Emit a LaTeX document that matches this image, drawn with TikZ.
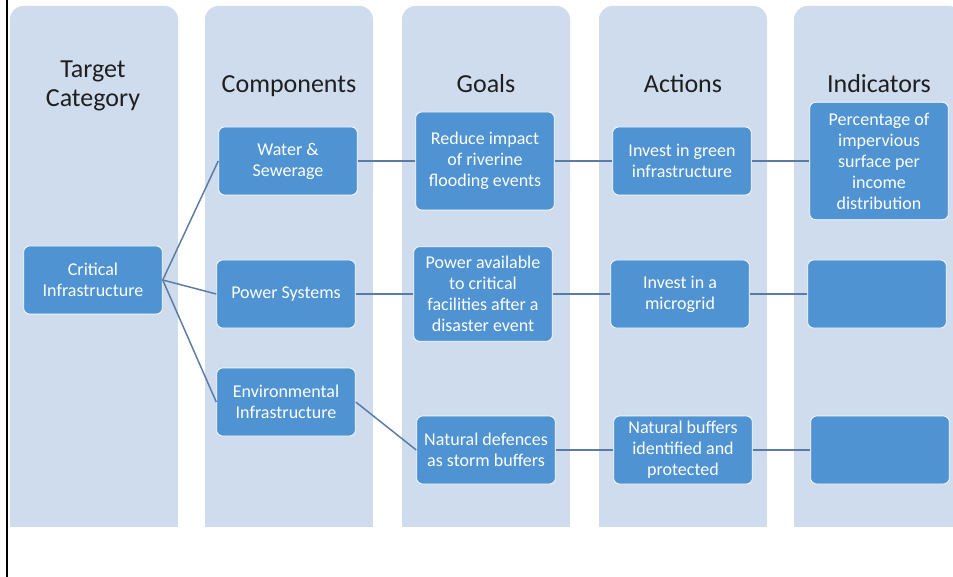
\documentclass[tikz,border=0pt]{standalone}
\usepackage{fontspec}
\setmainfont{Carlito}
\usetikzlibrary{positioning}
\definecolor{lanebg}{HTML}{CEDCEE}
\definecolor{boxbg}{HTML}{4F93D2}
\definecolor{linkcol}{HTML}{5B7BA5}

\begin{document}
\begin{tikzpicture}[x=0.75pt,y=-0.75pt,node distance=147.75pt,on grid,
	lane/.style={fill=lanebg},
	head/.style={font=\fontsize{19.5}{21.75}\selectfont,text=black!88,align=center,anchor=base},
	item/.style={rectangle,rounded corners=4.5pt,fill=boxbg,draw=white,line width=0.6pt,text=white,
		font=\fontsize{13.5}{15.75}\selectfont,align=center,minimum width=104pt,minimum height=51pt,inner sep=2pt},
	link/.style={draw=linkcol,line width=1.1pt}]
	\useasboundingbox (0,0) rectangle (953,577);
	\draw[line width=1.5pt] (7,0) -- (7,577);
	% lanes
	\foreach \x in {10,205,402,599,794} {
		\fill[lane,rounded corners=10pt] (\x,6) rectangle ++(168,200);
		\fill[lane] (\x,60) rectangle ++(168,467);
	}
	\node[head] (hcat) at (93,107) {Target\\Category};
	\node[head] (hcomp) at (289,93) {Components};
	\node[head] (hgoal) at (486,93) {Goals};
	\node[head] (hact) at (683,93) {Actions};
	\node[head] (hind) at (879,93) {Indicators};
	% boxes
	\node[item] (crit) at (93,280) {Critical\\Infrastructure};
	\node[item] (water) at (288,161) {Water \&\\Sewerage};
	\node[item] (power) at (286,294) {Power Systems};
	\node[item] (env) at (286,402) {Environmental\\Infrastructure};
	\node[item,minimum height=73.5pt] (reduce) [right=of water] {Reduce impact\\of riverine\\flooding events};
	\node[item,minimum height=71pt] (avail) [right=of power] {Power available\\to critical\\facilities after a\\disaster event};
	\node[item] (defence) at (486,450) {Natural defences\\as storm buffers};
	\node[item] (green) [right=of reduce] {Invest in green\\infrastructure};
	\node[item] (grid) [right=of avail] {Invest in a\\microgrid};
	\node[item] (buffer) [right=of defence] {Natural buffers\\identified and\\protected};
	\node[item,minimum height=88pt] (share) [right=of green] {Percentage of\\impervious\\surface per\\income\\distribution};
	\node[item] (blank2) [right=of grid] {};
	\node[item] (blank3) [right=of buffer] {};
	\path[link]
	(crit.east) edge (water.west) edge (power.west) edge (env.west)
	(water) edge (reduce) (reduce) edge (green) (green) edge (share)
	(power) edge (avail) (avail) edge (grid) (grid) edge (blank2)
	(env.east) edge (defence.west) (defence) edge (buffer) (buffer) edge (blank3);
\end{tikzpicture}
\end{document}
